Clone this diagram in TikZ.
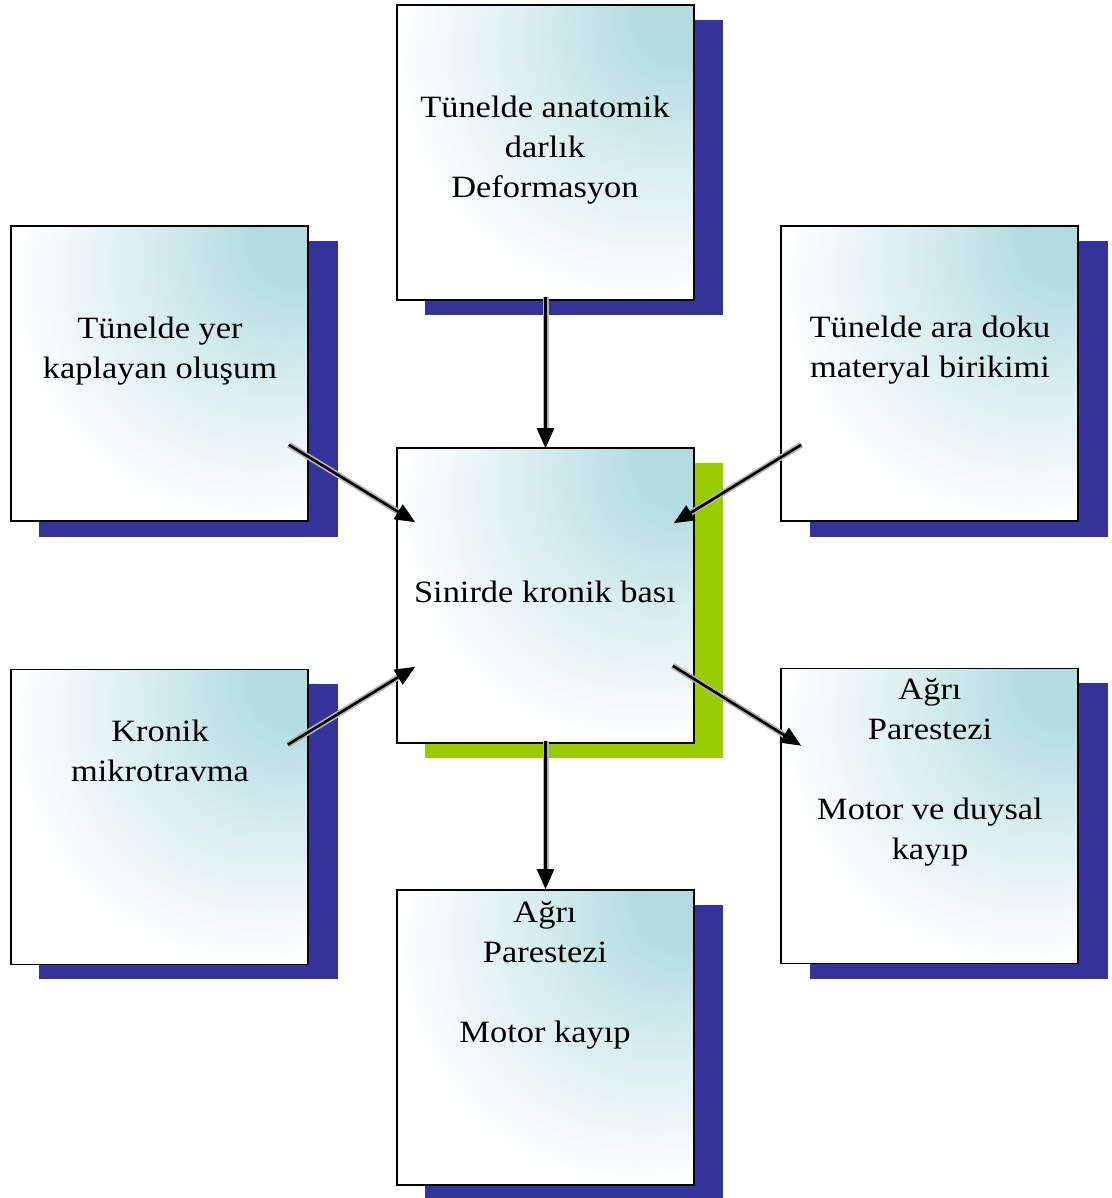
\documentclass[tikz,border=0pt]{standalone}
\usepackage{fontspec}
\setmainfont{Liberation Serif}[FakeStretch=1.11]
\usetikzlibrary{arrows.meta,calc}
\definecolor{sblue}{RGB}{51,51,153}
\definecolor{sgreen}{RGB}{153,204,0}
\definecolor{steal}{RGB}{178,220,224}
\pgfdeclareradialshading{boxshade}{\pgfpoint{25bp}{25bp}}{color(0bp)=(steal); color(7bp)=(steal); color(22bp)=(steal!50!white); color(40bp)=(white); color(100bp)=(white)}
\tikzset{
  box/.style={draw=black, line width=1.6pt, minimum width=297pt, minimum height=295pt, inner sep=0pt, shading=boxshade},
  txt/.style={align=center, inner sep=0pt, font=\fontsize{31}{40}\selectfont},
  arr/.style={line width=2.6pt, -{Triangle[length=20pt,width=17pt]},
     preaction={draw=black!30, line width=6pt, -, shorten >=17pt}},
}
\begin{document}
\begin{tikzpicture}[x=1pt,y=-1pt]
\useasboundingbox (0,0) rectangle (1111,1198);
% shadows
\fill[sblue] (425,20) rectangle (723,315);
\fill[sblue] (39,241) rectangle (338,537);
\fill[sblue] (810,241) rectangle (1108,537);
\fill[sgreen] (425,463) rectangle (723,758);
\fill[sblue] (39,684) rectangle (338,979);
\fill[sblue] (810,683) rectangle (1108,979);
\fill[sblue] (425,905) rectangle (723,1198);
% boxes
\node[box] (top) at (545.5,152.5) {};
\node[box] (lt) at (159.5,373.5) {};
\node[box] (rt) at (929.5,373.5) {};
\node[box] (c) at (545.5,595.5) {};
\node[box] (lb) at (159.5,817) {};
\node[box] (rb) at (929.5,816) {};
\node[box] (b) at (545.5,1037.5) {};
% texts
\node[txt] (ttop) at (545,150) {Tünelde anatomik\\darlık\\Deformasyon};
\node[txt] (tlt) at (160,351) {Tünelde yer\\kaplayan oluşum};
\node[txt] (trt) at (930,350) {Tünelde ara doku\\materyal birikimi};
\node[txt] (tc) at (545,592) {Sinirde kronik bası};
\node[txt] (tlb) at (160,751) {Kronik\\mikrotravma};
\node[txt] (trb) at (930,772) {Ağrı\\Parestezi\\[40pt]Motor ve duysal\\kayıp};
\node[txt] (tb) at (545,975) {Ağrı\\Parestezi\\[40pt]Motor kayıp};
% arrows
\draw[arr] ([yshift=4pt]top.south) -- ([yshift=-1pt]c.north);
\draw[arr] ([shift={(-20,-77)}]lt.south east) -- ([shift={(19,75)}]c.north west);
\draw[arr] ([shift={(21,-77)}]rt.south west) -- ([shift={(-21,76)}]c.north east);
\draw[arr] ([shift={(-21,76)}]lb.north east) -- ([shift={(19,-77)}]c.south west);
\draw[arr] ([shift={(-22,-78)}]c.south east) -- ([shift={(21,78)}]rb.north west);
\draw[arr] ([yshift=3pt]c.south) -- (b.north);
\end{tikzpicture}
\end{document}
